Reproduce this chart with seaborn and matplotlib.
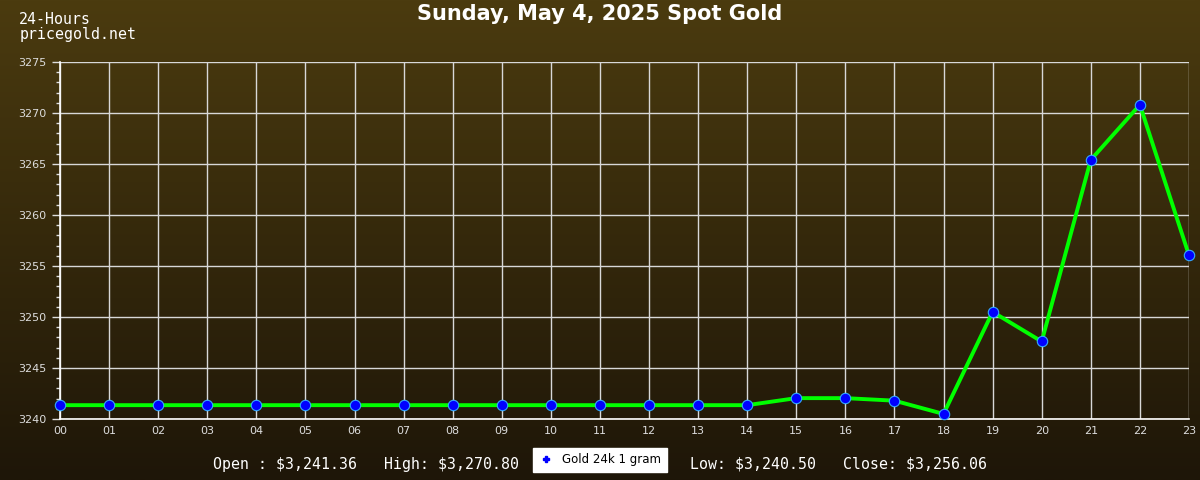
import numpy as np
import pandas as pd
import matplotlib
matplotlib.use("Agg")
import matplotlib.pyplot as plt
import seaborn as sns

hours = ["00", "01", "02", "03", "04", "05", "06", "07", "08", "09", "10", "11",
         "12", "13", "14", "15", "16", "17", "18", "19", "20", "21", "22", "23"]
prices = [3241.36, 3241.36, 3241.36, 3241.36, 3241.36, 3241.36, 3241.36, 3241.36,
          3241.36, 3241.36, 3241.36, 3241.36, 3241.36, 3241.36, 3241.36, 3242.05,
          3242.05, 3241.8, 3240.50, 3250.5, 3247.6, 3265.4, 3270.80, 3256.06]
stats_labels = ["Open : $3,241.36", "High: $3,270.80", "Low: $3,240.50", "Close: $3,256.06"]
series_name = "Gold 24k 1 gram"

df = pd.DataFrame({"x": range(len(hours)), "price": prices})

sns.set_theme(style="dark")
fig = plt.figure(figsize=(12, 4.8), dpi=100)

# fondo degradado de toda la figura
bg = fig.add_axes([0, 0, 1, 1], zorder=-10)
grad = np.linspace(0, 1, 256).reshape(-1, 1)
top = np.array([75, 59, 15]) / 255
bot = np.array([30, 22, 8]) / 255
img = top * (1 - grad[..., None]) + bot * grad[..., None]
bg.imshow(img, aspect="auto", extent=[0, 1, 0, 1])
bg.axis("off")

ax = fig.add_axes([0.05, 0.127, 0.9408, 0.744])
ax.patch.set_alpha(0)
sns.lineplot(data=df, x="x", y="price", ax=ax, color="#00ff00", lw=2.8,
             marker="o", markersize=7.5, markerfacecolor="#0000ff",
             markeredgecolor="#33aaff", markeredgewidth=0.8, label=series_name,
             legend=False, clip_on=False, zorder=5)

ax.set_xlim(0, 23)
ax.set_ylim(3240, 3275)
ax.set_xticks(range(len(hours)))
ax.set_xticklabels(hours)
ax.set_yticks(range(3240, 3276, 5))
ax.set_yticks(range(3240, 3276), minor=True)
ax.grid(True, which="major", color="#d8d8d8", lw=1)
ax.tick_params(axis="both", which="both", colors="#dddddd", labelsize=8,
               direction="out", bottom=True, left=True)
ax.tick_params(axis="y", which="major", length=6, width=1)
ax.tick_params(axis="y", which="minor", length=3, width=1)
ax.tick_params(axis="x", which="major", length=0, pad=5)
for s in ["top", "right"]:
    ax.spines[s].set_visible(False)
for s in ["left", "bottom"]:
    ax.spines[s].set_color("#ffffff")
    ax.spines[s].set_linewidth(1.2)
ax.set_xlabel("")
ax.set_ylabel("")

fig.text(0.5, 0.97, "Sunday, May 4, 2025 Spot Gold", ha="center", va="center",
         color="white", fontsize=15, fontweight="bold", family="DejaVu Sans")
fig.text(0.016, 0.96, "24-Hours", color="white", fontsize=10.7, family="DejaVu Sans Mono", va="center")
fig.text(0.016, 0.928, "pricegold.net", color="white", fontsize=10.7, family="DejaVu Sans Mono", va="center")

ypos = 1 - 464 / 480
fig.text(213 / 1200, ypos, stats_labels[0], color="white", fontsize=10.7, family="DejaVu Sans Mono", va="center")
fig.text(384 / 1200, ypos, stats_labels[1], color="white", fontsize=10.7, family="DejaVu Sans Mono", va="center")
fig.text(690 / 1200, ypos, stats_labels[2], color="white", fontsize=10.7, family="DejaVu Sans Mono", va="center")
fig.text(843 / 1200, ypos, stats_labels[3], color="white", fontsize=10.7, family="DejaVu Sans Mono", va="center")

leg = fig.legend(handles=[plt.Line2D([], [], ls="none", marker="P", markersize=4,
                                     color="#0000ff")],
                 labels=[series_name], loc="center", bbox_to_anchor=(600 / 1200, 1 - 460 / 480),
                 frameon=True, fancybox=False, fontsize=8.5, handlelength=1.2,
                 borderpad=0.45, handletextpad=0.8)
leg.get_frame().set_facecolor("white")
leg.get_frame().set_edgecolor("white")
leg.get_frame().set_alpha(1)
for t in leg.get_texts():
    t.set_color("black")

fig.savefig("out.png", dpi=100)
